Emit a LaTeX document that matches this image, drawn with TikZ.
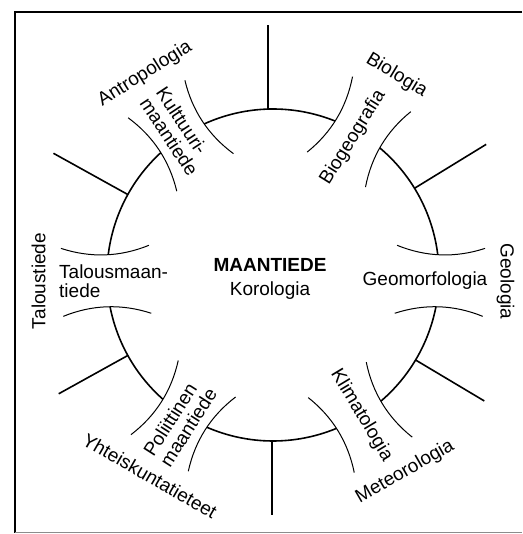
\documentclass[tikz,border=0pt]{standalone}
\usepackage{fontspec}
\setmainfont{Liberation Sans}
\begin{document}
\begin{tikzpicture}[x=1pt,y=1pt,
  lbl/.style={font=\fontsize{19}{19.5}\selectfont, inner sep=0pt},
  ring/.style={line width=1.6pt},
  spoke/.style={line width=1.6pt},
  bracket/.style={line width=1pt},
  frame/.style={line width=1.2pt}]
\useasboundingbox (-273,-259) rectangle (249,275);

% open frame (left, top, bottom)
\draw[frame] (249,263) -- (-258,263) -- (-258,-257.5);
\draw[line width=0.8pt, black!45] (-258,-257.5) -- (249,-257.5);

% curved brackets on both sides of each sub-discipline
\foreach \a in {59,-2,-58.5,-122.5,182,123.5}{
  \begin{scope}[rotate=\a]
    \draw[bracket] (123,34) .. controls (152.3,23.3) and (181.7,23.3) .. (211,34);
    \draw[bracket] (123,-34) .. controls (152.3,-23.3) and (181.7,-23.3) .. (211,-34);
  \end{scope}}

% ring pieces between the brackets
\foreach \s/\e in {7/50, 68/114.5, 132.5/173, 191/228.5, 246.5/292.5, 310.5/349}
  \draw[ring] (\s:166) arc[start angle=\s, end angle=\e, radius=166];

% spokes
\coordinate (sTa) at (-5,165.9);   \coordinate (sTb) at (-5,250);
\coordinate (sBa) at (-1,-166);    \coordinate (sBb) at (-1,-240);
\coordinate (sNEa) at (31.5:166);  \coordinate (sNEb) at (31.5:250);
\coordinate (sSEa) at (-30.8:166); \coordinate (sSEb) at (-30.8:246);
\coordinate (sNWa) at (151:166);   \coordinate (sNWb) at (151:251);
\coordinate (sSWa) at (-151:166);  \coordinate (sSWb) at (-151:245);
\foreach \p in {sT,sB,sNE,sSE,sNW,sSW}
  \draw[spoke] (\p a) -- (\p b);

% centre
\node[lbl, font=\fontsize{19}{19.5}\selectfont\bfseries, anchor=base] (main) at (-3,3) {MAANTIEDE};
\node[lbl, anchor=base] (koro) at (-3,-21) {Korologia};

% sub-disciplines on the ring
\node[lbl, anchor=base] (geom) at (152,-11) {Geomorfologia};
\node[lbl, rotate=58] (biog) at (80,137.5) {Biogeografia};
\node[lbl, rotate=-56.5, align=left] (kult) at (-95.5,143.5) {Kulttuuri-\\maantiede};
\node[lbl, align=left, anchor=base west] (talm) at (-214,-23) {Talousmaan-\\tiede};
\node[lbl, rotate=57.5, align=left] (poli) at (-93,-147) {Poliittinen\\maantiede};
\node[lbl, rotate=-59] (klim) at (88.5,-140.5) {Klimatologia};

% neighbouring sciences outside the ring
\node[lbl, rotate=-31] (biol) at (123.5,199.5) {Biologia};
\node[lbl, rotate=-90] (geol) at (232.5,-6.5) {Geologia};
\node[lbl, rotate=30] (mete) at (132,-197) {Meteorologia};
\node[lbl, rotate=-30] (yhte) at (-123,-201) {Yhteiskuntatieteet};
\node[lbl, rotate=90] (talt) at (-234.5,-6) {Taloustiede};
\node[lbl, rotate=32] (antr) at (-128,201) {Antropologia};
\end{tikzpicture}
\end{document}
